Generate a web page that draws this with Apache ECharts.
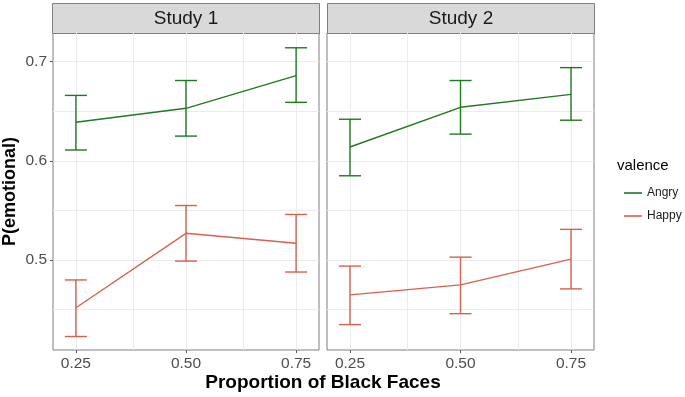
<!DOCTYPE html>
<html>
<head>
<meta charset="utf-8">
<script src="https://cdn.jsdelivr.net/npm/echarts@6/dist/echarts.min.js"></script>
<style>
  html, body { margin: 0; padding: 0; background: #fff; }
  #chart { width: 685px; height: 397px; }
</style>
</head>
<body>
<div id="chart"></div>
<script>
// dados
const proportions = [0.25, 0.50, 0.75];
const studies = ['Study 1', 'Study 2'];

const study1Angry = [0.639, 0.653, 0.686];
const study1AngryLow = [0.611, 0.625, 0.659];
const study1AngryHigh = [0.666, 0.681, 0.714];
const study1Happy = [0.452, 0.527, 0.517];
const study1HappyLow = [0.423, 0.499, 0.488];
const study1HappyHigh = [0.480, 0.555, 0.546];

const study2Angry = [0.614, 0.654, 0.667];
const study2AngryLow = [0.585, 0.627, 0.641];
const study2AngryHigh = [0.642, 0.681, 0.694];
const study2Happy = [0.465, 0.475, 0.501];
const study2HappyLow = [0.435, 0.446, 0.471];
const study2HappyHigh = [0.494, 0.503, 0.531];

const xTicks = [0.25, 0.50, 0.75];
const xGrid = [0.25, 0.375, 0.5, 0.625, 0.75];
const yTicks = [0.5, 0.6, 0.7];
const yGrid = [0.45, 0.5, 0.55, 0.6, 0.65, 0.7];

const GREEN = '#1f7a1f';
const RED = '#d9604c';
const FONT = '"Liberation Sans", Arial, sans-serif';

const chart = echarts.init(document.getElementById('chart'));

const panels = [
  { angry: [study1Angry, study1AngryLow, study1AngryHigh], happy: [study1Happy, study1HappyLow, study1HappyHigh] },
  { angry: [study2Angry, study2AngryLow, study2AngryHigh], happy: [study2Happy, study2HappyLow, study2HappyHigh] }
];

const gridLefts = [52, 327];
const gridWidth = 267;

const errorBar = (name, color, idx, mean, low, high) => ({
  name: name,
  type: 'custom',
  xAxisIndex: idx,
  yAxisIndex: idx,
  z: 3,
  data: proportions.map((p, i) => [p, low[i], high[i]]),
  renderItem: (params, api) => {
    const x = api.value(0);
    const lo = api.coord([x, api.value(1)]);
    const hi = api.coord([x, api.value(2)]);
    const capL = api.coord([x - 0.025, api.value(1)])[0];
    const capR = api.coord([x + 0.025, api.value(1)])[0];
    const style = { stroke: color, lineWidth: 1.4 };
    return {
      type: 'group',
      children: [
        { type: 'line', shape: { x1: lo[0], y1: lo[1], x2: hi[0], y2: hi[1] }, style },
        { type: 'line', shape: { x1: capL, y1: lo[1], x2: capR, y2: lo[1] }, style },
        { type: 'line', shape: { x1: capL, y1: hi[1], x2: capR, y2: hi[1] }, style }
      ]
    };
  }
});

const series = [];
panels.forEach((panel, idx) => {
  // linhas de grade (atrás das séries)
  series.push({
    type: 'line',
    xAxisIndex: idx,
    yAxisIndex: idx,
    data: [],
    silent: true,
    z: 1,
    markLine: {
      z: 1,
      silent: true,
      symbol: 'none',
      label: { show: false },
      lineStyle: { color: '#ebebeb', width: 1, type: 'solid' },
      data: xGrid.map(v => ({ xAxis: v })).concat(yGrid.map(v => ({ yAxis: v })))
    }
  });
  series.push({
    name: 'Angry', type: 'line', xAxisIndex: idx, yAxisIndex: idx, z: 3,
    showSymbol: false, lineStyle: { color: GREEN, width: 1.4 }, itemStyle: { color: GREEN },
    data: proportions.map((p, i) => [p, panel.angry[0][i]])
  });
  series.push(errorBar('Angry', GREEN, idx, ...panel.angry));
  series.push({
    name: 'Happy', type: 'line', xAxisIndex: idx, yAxisIndex: idx, z: 3,
    showSymbol: false, lineStyle: { color: RED, width: 1.4 }, itemStyle: { color: RED },
    data: proportions.map((p, i) => [p, panel.happy[0][i]])
  });
  series.push(errorBar('Happy', RED, idx, ...panel.happy));
});

const option = {
  backgroundColor: '#fff',
  animation: false,
  textStyle: { fontFamily: FONT },
  grid: gridLefts.map(left => ({
    left: left, top: 33, width: gridWidth, height: 317,
    show: true, borderColor: '#7f7f7f', borderWidth: 1, backgroundColor: '#fff'
  })),
  xAxis: gridLefts.map((_, idx) => ({
    type: 'value', gridIndex: idx, min: 0.198, max: 0.802,
    axisLine: { show: false },
    axisTick: { show: true, length: 3, lineStyle: { color: '#555' }, customValues: xTicks },
    axisLabel: { color: '#4d4d4d', fontSize: 15.5, fontFamily: FONT, margin: 6,
      customValues: xTicks, formatter: v => v.toFixed(2) },
    splitLine: { show: false }
  })),
  yAxis: gridLefts.map((_, idx) => ({
    type: 'value', gridIndex: idx, min: 0.4094, max: 0.7289,
    name: idx === 0 ? 'P(emotional)' : '',
    nameLocation: 'middle', nameGap: 34,
    nameTextStyle: { fontWeight: 'bold', fontSize: 18, color: '#000', fontFamily: FONT },
    axisLine: { show: false },
    axisTick: { show: idx === 0, length: 3, lineStyle: { color: '#555' }, customValues: yTicks },
    axisLabel: { show: idx === 0, color: '#4d4d4d', fontSize: 15.5, fontFamily: FONT, margin: 6,
      customValues: yTicks, formatter: v => v.toFixed(1) },
    splitLine: { show: false }
  })),
  legend: {
    data: ['Angry', 'Happy'],
    orient: 'vertical',
    left: 619, top: 182,
    icon: 'rect',
    itemWidth: 18, itemHeight: 1.6,
    itemGap: 11,
    textStyle: { fontSize: 12, color: '#1a1a1a', fontFamily: FONT, lineHeight: 12 },
    selectedMode: false
  },
  graphic: [
    ...gridLefts.map((left, i) => ({
      type: 'group', left: left, top: 3,
      children: [
        { type: 'rect', shape: { x: 0, y: 0, width: gridWidth, height: 30 },
          style: { fill: '#d9d9d9', stroke: '#7f7f7f', lineWidth: 1 } },
        { type: 'text', x: gridWidth / 2, y: 15,
          style: { text: studies[i], fill: '#1a1a1a', font: '19px ' + FONT, textAlign: 'center', textVerticalAlign: 'middle' } }
      ]
    })),
    { type: 'text', left: 617, top: 158,
      style: { text: 'valence', fill: '#000', font: '15px ' + FONT } },
    { type: 'text', x: 323, y: 383,
      style: { text: 'Proportion of Black Faces', fill: '#000', font: 'bold 19px ' + FONT, textAlign: 'center', textVerticalAlign: 'middle' } }
  ],
  series: series
};

chart.setOption(option);
</script>
</body>
</html>
